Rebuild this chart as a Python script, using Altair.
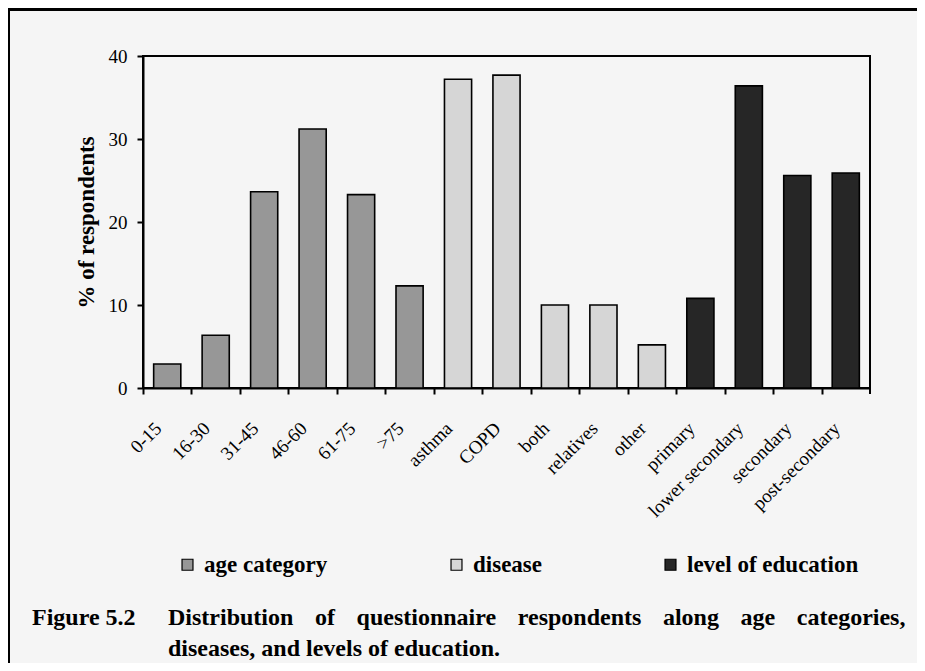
import altair as alt
import pandas as pd

categories = ["0-15", "16-30", "31-45", "46-60", "61-75", ">75",
              "asthma", "COPD", "both", "relatives", "other",
              "primary", "lower secondary", "secondary", "post-secondary"]
values = [2.9, 6.35, 23.65, 31.2, 23.3, 12.3,
          37.2, 37.7, 10.0, 10.0, 5.2,
          10.8, 36.4, 25.6, 25.9]
groups = ["age category"] * 6 + ["disease"] * 5 + ["level of education"] * 4
group_names = ["age category", "disease", "level of education"]
group_colors = ["#979797", "#d6d6d6", "#262626"]
y_ticks = [0, 10, 20, 30, 40]
y_title = "% of respondents"
caption_label = "Figure 5.2"
# justified line: words separated by widened spaces
GAP = "\u2002\u2009\u2009"
caption_words1 = ["Distribution", "of", "questionnaire", "respondents", "along", "age", "categories,"]
caption_line1 = GAP.join(caption_words1)
caption_line2 = "diseases, and levels of education."

FONT = "Liberation Serif"
W, H = 727, 332

df = pd.DataFrame({"category": categories, "value": values, "group": groups})

bars = alt.Chart(df).mark_bar(stroke="black", strokeWidth=1.6).encode(
    x=alt.X("category:N", sort=categories, title=None,
            scale=alt.Scale(paddingInner=0.44, paddingOuter=0.22),
            axis=alt.Axis(labelAngle=-45, labelAlign="right", labelBaseline="middle",
                          labelPadding=31, tickSize=6, tickOffset=-24.23, labelOffset=15,
                          labelFontSize=19)),
    y=alt.Y("value:Q", scale=alt.Scale(domain=[0, 40], nice=False),
            axis=alt.Axis(values=y_ticks, title=y_title, titleFont=FONT, titleFontSize=23,
                          titleFontWeight="bold", titleColor="black", titlePadding=10,
                          labelPadding=10, tickSize=6, labelFontSize=19)),
    color=alt.Color("group:N", scale=alt.Scale(domain=group_names, range=group_colors),
                    legend=alt.Legend(title=None, orient="none", legendX=33, legendY=497,
                                      direction="horizontal", symbolType="square",
                                      symbolSize=120, symbolStrokeColor="black",
                                      symbolStrokeWidth=1.2, symbolOpacity=1,
                                      labelFont=FONT, labelFontSize=23, labelFontWeight="bold",
                                      labelColor="black", columnPadding=117, labelOffset=5,
                                      labelLimit=400)),
)

one = alt.Data(values=[{}])

extra_tick = alt.Chart(one).mark_rule(color="black", strokeWidth=2).encode(
    x=alt.value(W), y=alt.value(H), y2=alt.value(H + 6))

border_left = alt.Chart(one).mark_rule(color="black", strokeWidth=3).encode(
    x=alt.value(-134.5), y=alt.value(-48), y2=alt.value(607))
border_top = alt.Chart(one).mark_rule(color="black", strokeWidth=3).encode(
    x=alt.value(-135), x2=alt.value(774), y=alt.value(-46.5))

def cap(text, x, y):
    return alt.Chart(one).mark_text(text=text, font=FONT, fontSize=24, fontWeight="bold",
                                    align="left", baseline="alphabetic", color="black").encode(
        x=alt.value(x), y=alt.value(y))

chart = alt.layer(
    bars, extra_tick, border_left, border_top,
    cap(caption_label, -111, 569),
    cap(caption_line1, 25, 569),
    cap(caption_line2, 25, 600),
).properties(
    width=W, height=H,
    autosize=alt.AutoSizeParams(type="none"),
    padding={"left": 135, "top": 48, "right": 47, "bottom": 275},
    background="#f5f5f5",
).configure_view(
    stroke="black", strokeWidth=2
).configure_axis(
    labelFont=FONT, labelColor="black", domainColor="black", domainWidth=2,
    tickColor="black", tickWidth=2, grid=False, titleFont=FONT
)

chart.save("out.html", embed_options={"renderer": "svg", "actions": False})
